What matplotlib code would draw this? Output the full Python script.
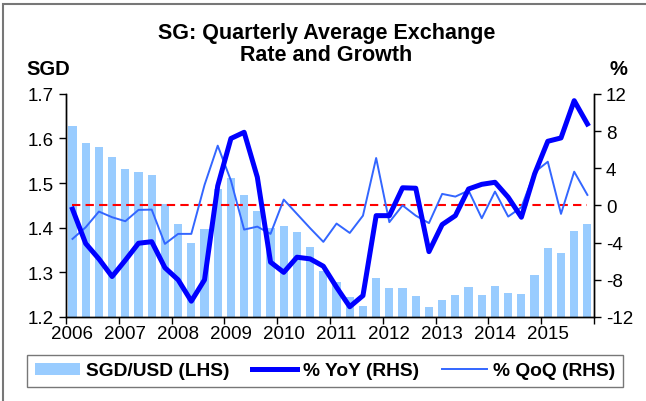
import numpy as np
import matplotlib
matplotlib.use("Agg")
import matplotlib.pyplot as plt
from matplotlib.patches import Rectangle, Patch
from matplotlib.lines import Line2D

plt.rcParams['font.family'] = ['Liberation Sans', 'DejaVu Sans']
plt.rcParams['axes.unicode_minus'] = False

# quarterly data, 2006Q1 - 2015Q4
years = ['2006', '2007', '2008', '2009', '2010', '2011', '2012', '2013', '2014', '2015']
sgd_usd = [1.628, 1.590, 1.580, 1.559, 1.532, 1.524, 1.518, 1.453,
           1.409, 1.366, 1.397, 1.487, 1.512, 1.473, 1.438, 1.400,
           1.403, 1.391, 1.356, 1.303, 1.278, 1.245, 1.225, 1.287,
           1.264, 1.264, 1.247, 1.222, 1.238, 1.249, 1.268, 1.250,
           1.269, 1.253, 1.251, 1.294, 1.355, 1.343, 1.392, 1.408]
yoy = [-0.4, -4.1, -5.75, -7.65, -5.9, -4.07, -3.9, -6.7,
       -8.0, -10.3, -8.0, 2.1, 7.2, 7.87, 3.03, -6.1,
       -7.2, -5.57, -5.75, -6.54, -8.8, -10.9, -9.7, -1.1,
       -1.1, 1.9, 1.85, -4.97, -2.06, -1.1, 1.77, 2.27,
       2.49, 0.88, -1.27, 3.39, 6.9, 7.26, 11.27, 8.76]
qoq = [-3.6, -2.35, -0.66, -1.27, -1.7, -0.48, -0.45, -4.14,
       -3.06, -3.06, 2.2, 6.43, 2.67, -2.6, -2.28, -3.06,
       0.63, -0.91, -2.45, -3.92, -1.95, -2.96, -1.1, 5.1,
       -1.8, 0.0, -1.1, -1.9, 1.24, 0.95, 1.6, -1.38,
       1.49, -1.2, -0.2, 3.57, 4.7, -0.91, 3.63, 1.13]

x = np.arange(len(sgd_usd))

fig = plt.figure(figsize=(6.46, 4.02), dpi=100)
ax = fig.add_axes([0.102, 0.209, 0.8175, 0.555])
ax2 = ax.twinx()

ax.bar(x, sgd_usd, width=0.62, color='#99CCFF', zorder=2)
ax2.plot(x, np.zeros(len(x)), color='#FF0000', lw=1.5, ls=(0, (4, 2.5)), zorder=3)
ax2.plot(x, qoq, color='#3366FF', lw=1.4, zorder=4)
ax2.plot(x, yoy, color='#0000FF', lw=3.6, zorder=5, solid_joinstyle='round')

ax.set_ylim(1.2, 1.7)
ax.set_yticks(np.arange(1.2, 1.71, 0.1))
ax.set_yticklabels(['%.1f' % v for v in np.arange(1.2, 1.71, 0.1)])
ax2.set_ylim(-12, 12)
ax2.set_yticks(range(-12, 13, 4))
ax.set_xlim(-0.5, 39.5)
ax.set_xticks(np.arange(-0.5, 40, 4))
ax.set_xticklabels([])
ax.set_xticks(np.arange(0, 40, 4), minor=True)
ax.set_xticklabels(years, minor=True)

for a in (ax, ax2):
    a.spines['top'].set_visible(False)
    for s in a.spines.values():
        s.set_linewidth(1.0)
    a.tick_params(which='both', labelsize=13.5, length=5, width=1, direction='out')
ax.tick_params(axis='x', which='minor', length=0, pad=6)

fig.text(0.505, 0.916, 'SG: Quarterly Average Exchange', ha='center', va='center',
         fontsize=15.5, fontweight='bold')
fig.text(0.505, 0.861, 'Rate and Growth', ha='center', va='center',
         fontsize=15.5, fontweight='bold')
fig.text(0.075, 0.826, 'SGD', ha='center', va='center', fontsize=14.5, fontweight='bold')
fig.text(0.958, 0.826, '%', ha='center', va='center', fontsize=14.5, fontweight='bold')

handles = [Patch(facecolor='#99CCFF', edgecolor='none'),
           Line2D([], [], color='#0000FF', lw=3.6),
           Line2D([], [], color='#3366FF', lw=1.4)]
labels = ['SGD/USD (LHS)', '% YoY (RHS)', '% QoQ (RHS)']
leg = fig.legend(handles, labels, loc='center', bbox_to_anchor=(0.503, 0.075), ncol=3,
                 frameon=True, fancybox=False, handlelength=2.35, handleheight=0.6,
                 columnspacing=1.2, handletextpad=0.3, borderpad=0.4, borderaxespad=0,
                 prop={'weight': 'bold', 'size': 13.8})
leg.get_frame().set_edgecolor('#555555')
leg.get_frame().set_linewidth(1.0)

fig.patches.append(Rectangle((0.005, -0.05), 1.2, 1.037, transform=fig.transFigure,
                             fill=False, edgecolor='#777777', lw=1.5))

fig.savefig('out.png', dpi=100)
